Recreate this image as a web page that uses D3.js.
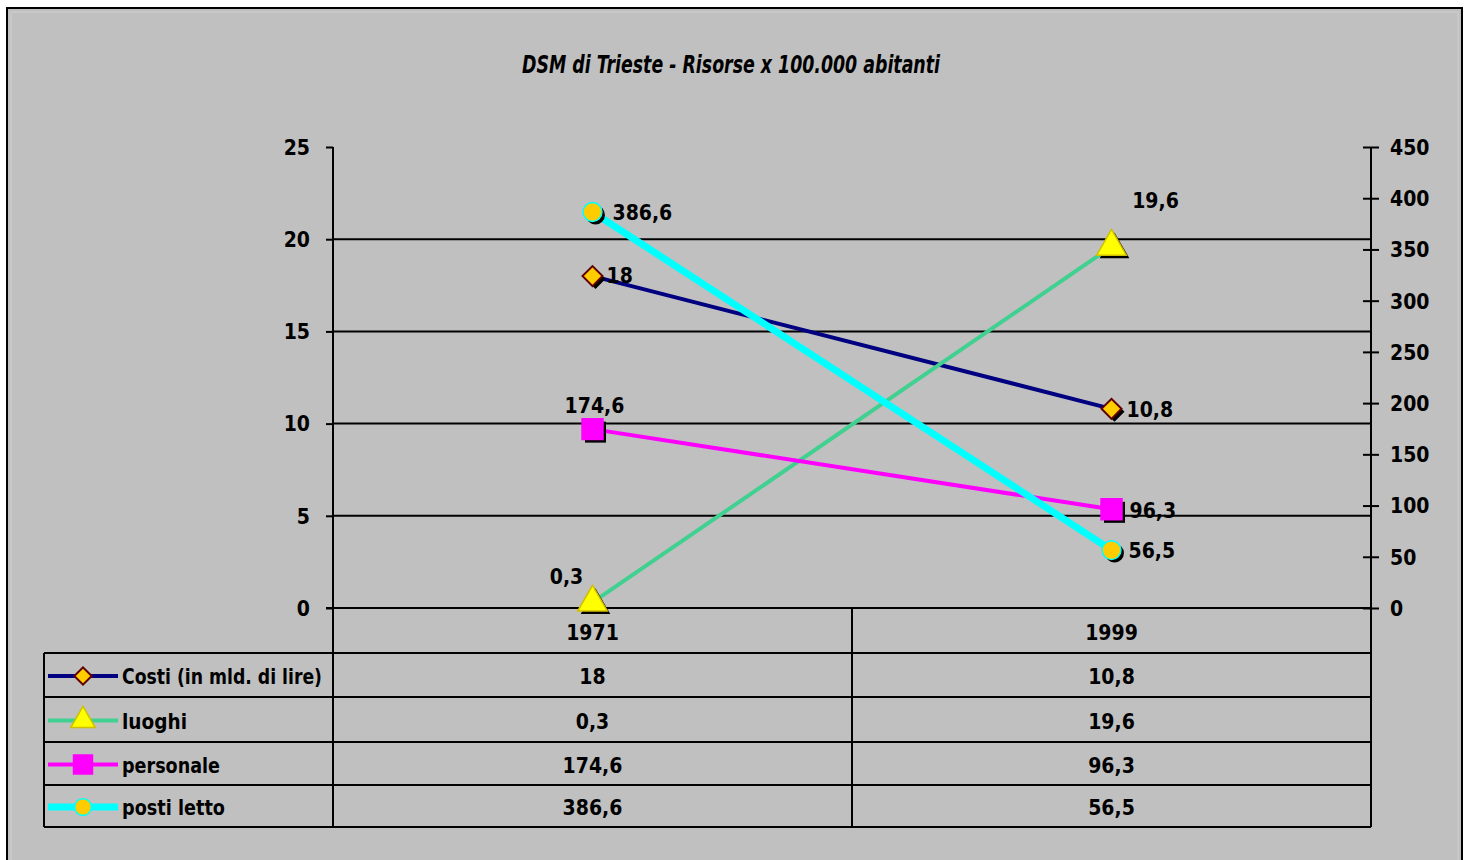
<!DOCTYPE html>
<html>
<head>
<meta charset="utf-8">
<script src="https://cdn.jsdelivr.net/npm/d3@7"></script>
<style>
  html, body { margin: 0; padding: 0; background: #ffffff; }
  svg text { font-family: "DejaVu Sans Condensed", "DejaVu Sans", sans-serif; font-stretch: condensed; font-weight: bold; fill: #000; }
</style>
</head>
<body>
<div class="chart"></div>
<script>
// data
const categories = ["1971", "1999"];
const seriesNames = ["Costi (in mld. di lire)", "luoghi", "personale", "posti letto"];
const costi = [18, 10.8];
const luoghi = [0.3, 19.6];
const personale = [174.6, 96.3];
const postiLetto = [386.6, 56.5];
const leftTicks = [0, 5, 10, 15, 20, 25];
const rightTicks = [0, 50, 100, 150, 200, 250, 300, 350, 400, 450];
const title = "DSM di Trieste - Risorse x 100.000 abitanti";

var w = 1469,
  h = 860,
  plotLeft = 333,
  plotRight = 1371,
  plotTop = 147,
  plotBottom = 608,
  rowLines = [653, 697, 742, 785, 827],
  tableLeft = 44,
  legendWidths = [200, 65, 98, 103];

const fmt = d3.formatLocale({ decimal: ",", thousands: ".", grouping: [3], currency: ["", ""] }).format("~g");

const svg = d3.select(".chart").append("svg").attr("width", w).attr("height", h);

// background + frame
svg.append("rect").attr("x", 7).attr("y", 8).attr("width", 1455).attr("height", 870)
  .attr("fill", "#c0c0c0").attr("stroke", "#000").attr("stroke-width", 2);
svg.append("rect").attr("x", 11).attr("y", 12).attr("width", 1447).attr("height", 870)
  .attr("fill", "none").attr("stroke", "#cfcfcf").attr("stroke-width", 1);

svg.append("text")
  .attr("x", 731).attr("y", 73)
  .attr("text-anchor", "middle")
  .attr("font-size", 24)
  .attr("font-style", "italic")
  .attr("textLength", 418).attr("lengthAdjust", "spacingAndGlyphs")
  .text(title);

const xScale = d3.scaleBand().domain(categories).range([plotLeft, plotRight]).padding(0);
const xc = (c) => xScale(c) + xScale.bandwidth() / 2;
const yLeft = d3.scaleLinear().domain([0, 25]).range([plotBottom, plotTop]);
const yRight = d3.scaleLinear().domain([0, 450]).range([plotBottom, plotTop]);

// gridlines
svg.append("g").selectAll("line")
  .data(leftTicks.filter((d) => d > 0 && d < 25))
  .enter().append("line")
  .attr("x1", plotLeft).attr("x2", plotRight)
  .attr("y1", (d) => yLeft(d)).attr("y2", (d) => yLeft(d))
  .attr("stroke", "#000").attr("stroke-width", 2);

// left axis
const yAxisL = d3.axisLeft(yLeft).tickValues(leftTicks).tickSize(7).tickSizeOuter(0).tickPadding(16).tickFormat(fmt);
const gL = svg.append("g").attr("transform", "translate(" + plotLeft + ",0)").call(yAxisL);
gL.select(".domain").remove();
gL.selectAll("line").attr("stroke", "#000").attr("stroke-width", 2);
gL.selectAll("text").attr("font-size", 21).attr("font-family", null).attr("dy", "0.35em");

// right axis
const yAxisR = d3.axisRight(yRight).tickValues(rightTicks).tickSize(8).tickSizeOuter(0).tickPadding(11).tickFormat(fmt);
const gR = svg.append("g").attr("transform", "translate(" + plotRight + ",0)").call(yAxisR);
gR.select(".domain").remove();
gR.selectAll("line").attr("x1", -8).attr("stroke", "#000").attr("stroke-width", 2);
gR.selectAll("text").attr("font-size", 21).attr("font-family", null).attr("dy", "0.35em");

// axis lines and category axis
svg.append("line").attr("x1", plotLeft).attr("x2", plotLeft).attr("y1", plotTop).attr("y2", rowLines[4])
  .attr("stroke", "#000").attr("stroke-width", 2);
svg.append("line").attr("x1", plotRight).attr("x2", plotRight).attr("y1", plotTop).attr("y2", rowLines[4])
  .attr("stroke", "#000").attr("stroke-width", 2);
svg.append("line").attr("x1", plotLeft - 7).attr("x2", plotRight).attr("y1", plotBottom).attr("y2", plotBottom)
  .attr("stroke", "#000").attr("stroke-width", 2);
svg.append("line").attr("x1", xScale("1999")).attr("x2", xScale("1999")).attr("y1", plotBottom).attr("y2", rowLines[4])
  .attr("stroke", "#000").attr("stroke-width", 2);

// data table
svg.append("g").selectAll("line").data(rowLines).enter().append("line")
  .attr("x1", tableLeft).attr("x2", plotRight)
  .attr("y1", (d) => d).attr("y2", (d) => d)
  .attr("stroke", "#000").attr("stroke-width", 2);
svg.append("line").attr("x1", tableLeft).attr("x2", tableLeft).attr("y1", rowLines[0]).attr("y2", rowLines[4])
  .attr("stroke", "#000").attr("stroke-width", 2);

svg.append("g").selectAll("text").data(categories).enter().append("text")
  .attr("x", (d) => xc(d)).attr("y", (plotBottom + rowLines[0]) / 2 + 2)
  .attr("dy", "0.35em").attr("text-anchor", "middle").attr("font-size", 21)
  .text((d) => d);

const series = [
  { name: seriesNames[0], values: costi, scale: yLeft, color: "#000080", width: 4, marker: "diamond", fill: "#ffcc00", edge: "#600000", lab: [[14, 0, "start"], [15, 1, "start"]] },
  { name: seriesNames[1], values: luoghi, scale: yLeft, color: "#40d090", width: 4, marker: "triangle", fill: "#ffff00", edge: "#d0c000", lab: [[-26, -26, "middle"], [44, -46, "middle"]] },
  { name: seriesNames[2], values: personale, scale: yRight, color: "#ff00ff", width: 4, marker: "square", fill: "#ff00ff", edge: "#ff00ff", lab: [[2, -23, "middle"], [18, 1, "start"]] },
  { name: seriesNames[3], values: postiLetto, scale: yRight, color: "#00ffff", width: 7, marker: "circle", fill: "#ffcc00", edge: "#00ffff", lab: [[20, 1, "start"], [17, 1, "start"]] }
];

const symbols = {
  diamond: d3.symbol().type(d3.symbolSquare).size(200),
  triangle: d3.symbol().type(d3.symbolTriangle).size(380),
  square: d3.symbol().type(d3.symbolSquare).size(440),
  circle: d3.symbol().type(d3.symbolCircle).size(280)
};
const legendSymbols = {
  diamond: d3.symbol().type(d3.symbolSquare).size(150),
  triangle: d3.symbol().type(d3.symbolTriangle).size(260),
  square: d3.symbol().type(d3.symbolSquare).size(360),
  circle: d3.symbol().type(d3.symbolCircle).size(220)
};

function drawMarker(g, s, x, y, shadow, sym) {
  const p = g.append("path").attr("d", sym[s.marker]())
    .attr("transform", "translate(" + (x + (shadow ? 3 : 0)) + "," + (y + (shadow ? 3 : 0)) + ")" + (s.marker === "diamond" ? " rotate(45)" : ""));
  if (shadow) p.attr("fill", "#000");
  else p.attr("fill", s.fill).attr("stroke", s.edge).attr("stroke-width", s.marker === "diamond" ? 2 : 1.5);
}

const line = (s) => d3.line().x((d, i) => xc(categories[i])).y((d) => s.scale(d));

series.forEach((s) => {
  const g = svg.append("g");
  g.append("path").datum(s.values).attr("d", line(s)).attr("fill", "none")
    .attr("stroke", s.color).attr("stroke-width", s.width);
  s.values.forEach((v, i) => {
    const x = xc(categories[i]), y = s.scale(v);
    drawMarker(g, s, x, y, true, symbols);
    drawMarker(g, s, x, y, false, symbols);
  });
});

// data labels on top
series.forEach((s) => {
  s.values.forEach((v, i) => {
    const x = xc(categories[i]), y = s.scale(v);
    svg.append("text").attr("x", x + s.lab[i][0]).attr("y", y + s.lab[i][1])
      .attr("dy", "0.35em").attr("text-anchor", s.lab[i][2]).attr("font-size", 21)
      .text(fmt(v));
  });
});

// legend keys and values in the table
series.forEach((s, r) => {
  const cy = (rowLines[r] + rowLines[r + 1]) / 2 + 2;
  const g = svg.append("g");
  g.append("line").attr("x1", 48).attr("x2", 118).attr("y1", cy - 1).attr("y2", cy - 1)
    .attr("stroke", s.color).attr("stroke-width", s.width);
  drawMarker(g, s, 83, cy - 1, false, legendSymbols);
  g.append("text").attr("x", 122).attr("y", cy).attr("dy", "0.35em").attr("font-size", 21)
    .attr("textLength", legendWidths[r]).attr("lengthAdjust", "spacingAndGlyphs").text(s.name);
  s.values.forEach((v, i) => {
    g.append("text").attr("x", xc(categories[i])).attr("y", cy).attr("dy", "0.35em")
      .attr("text-anchor", "middle").attr("font-size", 21).text(fmt(v));
  });
});
</script>
</body>
</html>
